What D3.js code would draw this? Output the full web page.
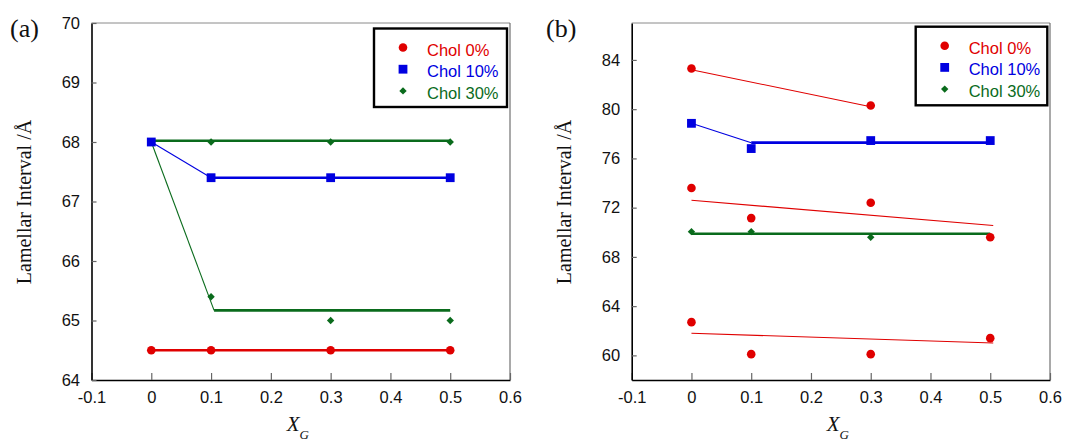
<!DOCTYPE html>
<html>
<head>
<meta charset="utf-8">
<script src="https://cdn.jsdelivr.net/npm/d3@7"></script>
<style>
  body { margin: 0; background: #fff; }
</style>
</head>
<body>
<svg id="chart" width="1080" height="441"></svg>
<script>
// series names and shared x positions
const seriesNames = ["Chol 0%", "Chol 10%", "Chol 30%"];
const xTicks = [-0.1, 0, 0.1, 0.2, 0.3, 0.4, 0.5, 0.6];
const xG = [0, 0.1, 0.3, 0.5];

// panel (a)
const aYTicks = [64, 65, 66, 67, 68, 69, 70];
const aChol0 = [64.5, 64.5, 64.5, 64.5];
const aChol10 = [68.0, 67.4, 67.4, 67.4];
const aChol30Upper = [68.0, 68.0, 68.0, 68.0];
const aChol30Lower = [null, 65.4, 65.0, 65.0];
const aLine0 = [[0, 64.5], [0.5, 64.5]];
const aLine10Drop = [[0, 68.0], [0.1, 67.4]];
const aLine10Flat = [[0.1, 67.4], [0.5, 67.4]];
const aLine30Flat = [[0, 68.02], [0.5, 68.02]];
const aLine30Drop = [[0, 68.0], [0.105, 65.17]];
const aLine30Low = [[0.105, 65.17], [0.5, 65.17]];

// panel (b)
const bYTicks = [60, 64, 68, 72, 76, 80, 84];
const bChol0Top = [83.3, null, 80.3, null];
const bChol0Mid = [73.6, 71.15, 72.4, 69.6];
const bChol0Low = [62.7, 60.1, 60.1, 61.4];
const bChol10 = [78.85, 76.8, 77.45, 77.45];
const bChol30 = [70.05, 70.05, 69.6, 69.6];
const bLine0Top = [[0, 83.2], [0.3, 80.2]];
const bLine0Mid = [[0, 72.6], [0.505, 70.55]];
const bLine0Low = [[0, 61.8], [0.505, 61.0]];
const bLine10Drop = [[0, 78.85], [0.1, 77.28]];
const bLine10Flat = [[0.1, 77.28], [0.5, 77.28]];
const bLine30 = [[0, 69.88], [0.5, 69.88]];

const colors = ["#e00000", "#0000e0", "#0a6b1c"];
const sans = "'Liberation Sans', Arial, sans-serif";
const serif = "'Liberation Serif', 'Times New Roman', serif";

const svg = d3.select("#chart");

function marker(g, kind, x, y) {
  if (kind === 0) {
    g.append("circle").attr("cx", x).attr("cy", y).attr("r", 4.3).attr("fill", colors[0]);
  } else if (kind === 1) {
    g.append("rect").attr("x", x - 4.4).attr("y", y - 4.4)
      .attr("width", 8.8).attr("height", 8.8).attr("fill", colors[1]);
  } else {
    const s = 3.7;
    g.append("path")
      .attr("d", `M${x},${y - s}L${x + s},${y}L${x},${y + s}L${x - s},${y}Z`)
      .attr("fill", colors[2]);
  }
}

function drawPanel(p) {
  const g = svg.append("g");
  const x = d3.scaleLinear().domain([-0.1, 0.6]).range([p.left, p.right]);
  const y = d3.scaleLinear().domain(p.yDomain).range([p.bottom, p.top]);

  // frame: top and right are light
  g.append("line").attr("x1", p.left).attr("x2", p.right).attr("y1", p.top).attr("y2", p.top)
    .attr("stroke", "#8a8a8a").attr("stroke-width", 1);
  g.append("line").attr("x1", p.right).attr("x2", p.right).attr("y1", p.top).attr("y2", p.bottom)
    .attr("stroke", "#555").attr("stroke-width", 1);

  const xAxis = g.append("g").attr("transform", `translate(0,${p.bottom})`)
    .call(d3.axisBottom(x).tickValues(xTicks).tickSizeInner(-7).tickSizeOuter(0).tickPadding(11.5)
      .tickFormat(d => String(Math.round(d * 10) / 10)));
  const yAxis = g.append("g").attr("transform", `translate(${p.left},0)`)
    .call(d3.axisLeft(y).tickValues(p.yTicks).tickSizeInner(-5).tickSizeOuter(0).tickPadding(11.5)
      .tickFormat(d => String(d)));

  [xAxis, yAxis].forEach(a => {
    a.select(".domain").attr("stroke", "#000").attr("stroke-width", 1.6);
    a.selectAll(".tick line").attr("stroke", "#666").attr("stroke-width", 1.2);
    a.selectAll(".tick text").attr("fill", "#111")
      .style("font-family", sans).style("font-size", "16.5px");
  });

  const line = d3.line().x(d => x(d[0])).y(d => y(d[1]));
  p.lines.forEach(l => {
    g.append("path").attr("d", line(l.pts)).attr("fill", "none")
      .attr("stroke", colors[l.s]).attr("stroke-width", l.w);
  });

  p.points.forEach(ser => {
    ser.vals.forEach((v, i) => {
      if (v !== null) marker(g, ser.s, x(xG[i]), y(v));
    });
  });

  // legend
  const lg = g.append("g");
  lg.append("rect").attr("x", p.legend[0]).attr("y", p.legend[1])
    .attr("width", p.legend[2]).attr("height", p.legend[3])
    .attr("fill", "#fff").attr("stroke", "#000").attr("stroke-width", 2.4);
  seriesNames.forEach((name, i) => {
    const cy = p.legend[1] + 19 + i * 21.7;
    marker(lg, i, p.legend[0] + 29, cy);
    lg.append("text").attr("x", p.legend[0] + 53).attr("y", cy + 8)
      .attr("fill", colors[i]).style("font-family", sans).style("font-size", "16.5px")
      .text(name);
  });

  // axis titles
  g.append("text")
    .attr("transform", `translate(${p.left - 60.5},${(p.top + p.bottom) / 2 + 0.5}) rotate(-90)`)
    .attr("text-anchor", "middle").attr("fill", "#111")
    .style("font-family", serif).style("font-size", "20px")
    .text("Lamellar Interval /Å");

  const xt = g.append("text").attr("x", (p.left + p.right) / 2 - 3).attr("y", 431)
    .attr("text-anchor", "middle").attr("fill", "#111")
    .style("font-family", serif).style("font-size", "21px").style("font-style", "italic");
  xt.append("tspan").text("X");
  xt.append("tspan").attr("dy", 8).style("font-size", "13px").text("G");

  g.append("text").attr("x", p.tag[0]).attr("y", p.tag[1]).attr("fill", "#111")
    .style("font-family", serif).style("font-size", "26px").text(p.label);
}

drawPanel({
  label: "(a)", tag: [10, 37],
  left: 91.5, right: 510, top: 23, bottom: 380,
  yDomain: [64, 70], yTicks: aYTicks,
  legend: [374, 28.5, 133, 78.5],
  lines: [
    { s: 0, pts: aLine0, w: 2.6 },
    { s: 1, pts: aLine10Drop, w: 1.1 },
    { s: 1, pts: aLine10Flat, w: 2.6 },
    { s: 2, pts: aLine30Flat, w: 2.6 },
    { s: 2, pts: aLine30Drop, w: 1.1 },
    { s: 2, pts: aLine30Low, w: 2.6 }
  ],
  points: [
    { s: 0, vals: aChol0 },
    { s: 2, vals: aChol30Upper },
    { s: 2, vals: aChol30Lower },
    { s: 1, vals: aChol10 }
  ]
});

drawPanel({
  label: "(b)", tag: [546, 37],
  left: 631.7, right: 1050, top: 23, bottom: 380,
  yDomain: [58, 87], yTicks: bYTicks,
  legend: [915.7, 26.7, 131.6, 78.6],
  lines: [
    { s: 0, pts: bLine0Top, w: 1.1 },
    { s: 0, pts: bLine0Mid, w: 1.1 },
    { s: 0, pts: bLine0Low, w: 1.1 },
    { s: 1, pts: bLine10Drop, w: 1.1 },
    { s: 1, pts: bLine10Flat, w: 2.6 },
    { s: 2, pts: bLine30, w: 2.6 }
  ],
  points: [
    { s: 2, vals: bChol30 },
    { s: 0, vals: bChol0Top },
    { s: 0, vals: bChol0Mid },
    { s: 0, vals: bChol0Low },
    { s: 1, vals: bChol10 }
  ]
});
</script>
</body>
</html>
